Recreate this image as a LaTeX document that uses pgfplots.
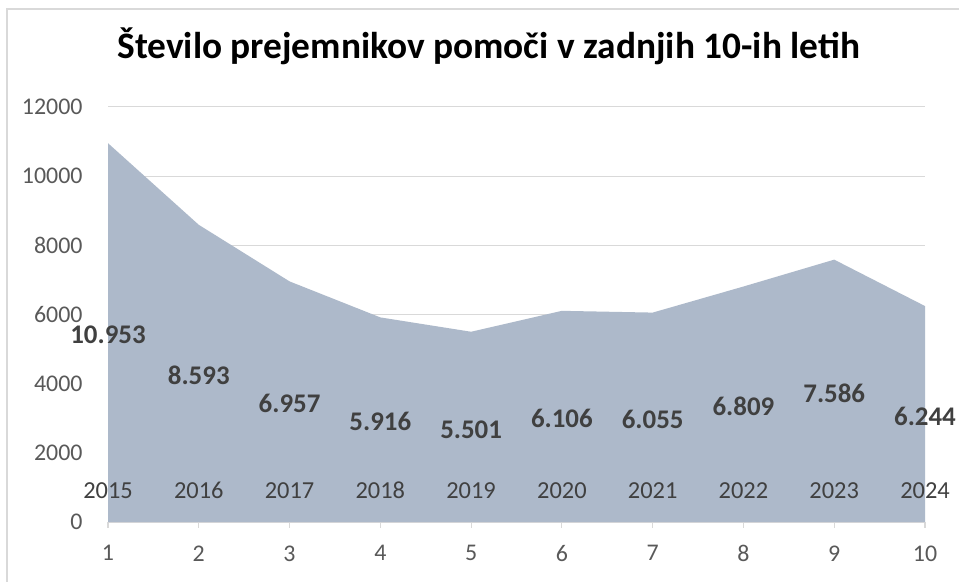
\documentclass[border=0pt]{standalone}
\usepackage{pgfplots}
\pgfplotsset{compat=1.18}
\usepackage{pgfplotstable}
\usepackage{fontspec}
\setmainfont{Carlito}
\definecolor{areacol}{HTML}{ADB9CA}
\definecolor{gridc}{HTML}{D9D9D9}
\definecolor{tickc}{HTML}{595959}
\definecolor{labc}{HTML}{404040}
\pgfplotstableread{
x y yh lab year yrh
1 10953 5476.5 10.953 2015 1010
2 8593 4296.5 8.593 2016 1010
3 6957 3478.5 6.957 2017 1010
4 5916 2958 5.916 2018 1010
5 5501 2750.5 5.501 2019 1010
6 6106 3053 6.106 2020 1010
7 6055 3027.5 6.055 2021 1010
8 6809 3404.5 6.809 2022 1010
9 7586 3793 7.586 2023 1010
10 6244 3122 6.244 2024 1010
}\data
\begin{document}
\begin{tikzpicture}
\useasboundingbox (0bp,0bp) rectangle (959bp,582bp);
\fill[white] (0bp,0bp) rectangle (959bp,582bp);
\draw[gridc, line width=1.2bp] (7bp,-5bp) -- (7bp,573bp) -- (965bp,573bp);
\begin{axis}[
  at={(108bp,60bp)}, anchor=south west,
  scale only axis, width=817bp, height=415bp,
  xmin=1, xmax=10, ymin=0, ymax=12000,
  xtick={1,...,10}, ytick={0,2000,...,12000},
  axis x line*=bottom, axis y line*=left,
  x axis line style={draw=gridc, line width=1.2bp, -},
  y axis line style={draw=none},
  ymajorgrids, grid style={gridc, line width=1bp},
  major tick length=6bp,
  xtick style={draw=gridc, line width=1.2bp},
  tick align=outside,
  ytick style={draw=none},
  scaled y ticks=false,
  /pgf/number format/assume math mode=true,
  /pgf/number format/1000 sep={},
  tick label style={font=\fontsize{24}{27}\selectfont, text=tickc},
  xticklabel style={yshift=-14bp},
  yticklabel style={xshift=-16bp},
  clip=false,
  title={\fontsize{37.5}{42}\selectfont\bfseries Število prejemnikov pomoči v zadnjih 10-ih letih},
  title style={at={(0.466,1)}, anchor=center, yshift=55bp},
]
\addplot[fill=areacol, draw=none] table[x=x, y=y] {\data} \closedcycle;
\addplot[draw=none, mark=none, nodes near coords, point meta=explicit symbolic,
  every node near coord/.style={anchor=center, yshift=-8bp, text height=0.65em, text depth=0pt,
    font=\fontsize{27}{30}\selectfont\bfseries, text=labc}]
  table[x=x, y=yh, meta=lab] {\data};
\addplot[draw=none, mark=none, nodes near coords, point meta=explicit symbolic,
  every node near coord/.style={anchor=center, yshift=-8bp, text height=0.65em, text depth=0pt,
    font=\fontsize{24.5}{28}\selectfont, text=labc}]
  table[x=x, y=yrh, meta=year] {\data};
\end{axis}
\end{tikzpicture}
\end{document}
